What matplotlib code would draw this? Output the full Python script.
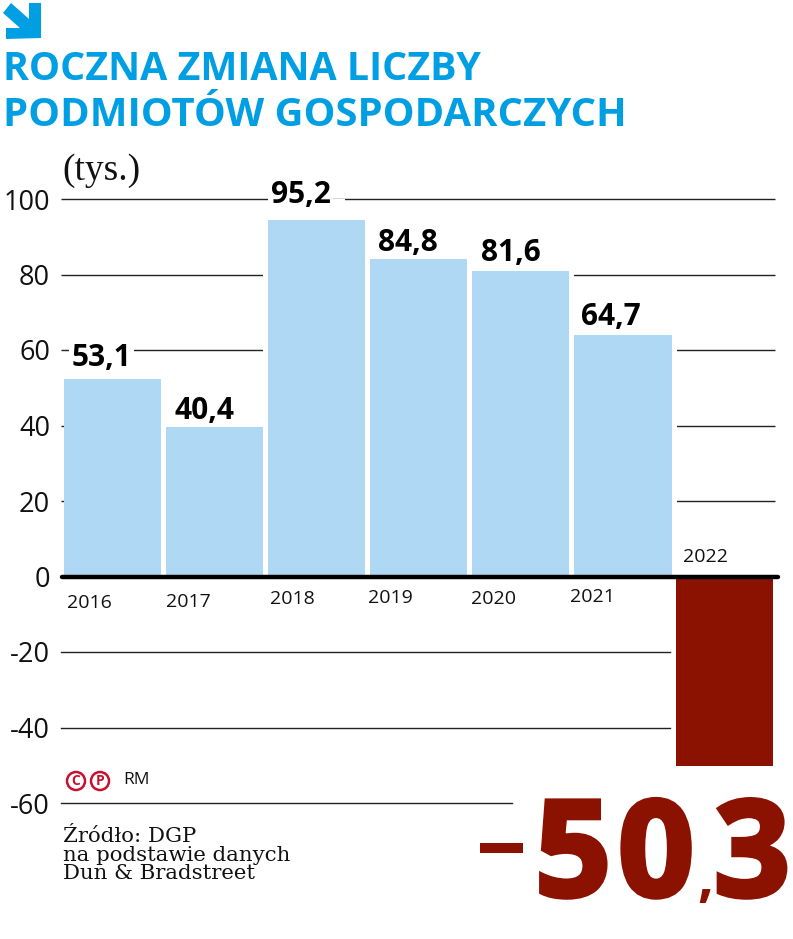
import matplotlib.pyplot as plt
import matplotlib.patheffects as pe
from matplotlib.patches import Polygon, Circle
from matplotlib.transforms import IdentityTransform

W, H = 793, 939

# DATA
years = ["2016", "2017", "2018", "2019", "2020", "2021", "2022"]
values = [53.1, 40.4, 95.2, 84.8, 81.6, 64.7, -50.3]
value_labels = ["53,1", "40,4", "95,2", "84,8", "81,6", "64,7"]
y_ticks = [100, 80, 60, 40, 20, 0, -20, -40, -60]
y_tick_labels = ["100", "80", "60", "40", "20", "0", "-20", "-40", "-60"]

# hand placed offsets from the bar, in pixels
label_dx = [-11, -10, -16, -11, -10, -12]
label_dy = [18, 13, 22, 13, 15, 15]
year_px = [(89, 603), (188, 602), (292, 599), (390, 598), (493, 599), (592, 597), (706, 557)]

BLUE = "#009fe3"
LIGHT = "#aed8f3"
RED = "#8b1100"

plt.rcParams["font.family"] = ["Open Sans", "DejaVu Sans"]


def fx(x):
    return x / W


def fy(y):
    return 1 - y / H


fig = plt.figure(figsize=(W / 100, H / 100), dpi=100)
ax = fig.add_axes([fx(64), fy(803), (775 - 64) / W, (803 - 199) / H])
ax.set_xlim(-0.475, 6.495)
ax.set_ylim(-60, 100)
ax.patch.set_alpha(0)
for s in ax.spines.values():
    s.set_visible(False)
ax.set_xticks([])
ax.set_yticks(y_ticks, y_tick_labels)
ax.tick_params(axis="y", length=0, pad=10, labelsize=19.5, labelcolor="#111111")

# grid, each level stops where the reference stops
for lev in y_ticks:
    if lev > 0:
        ax.plot([-0.5, 6.495], [lev, lev], color="#222222", lw=1, zorder=1, solid_capstyle="butt", clip_on=False)
    elif lev == -60:
        ax.plot([-0.5, 3.92], [lev, lev], color="#222222", lw=1, zorder=1, clip_on=False)
    elif lev < 0:
        ax.plot([-0.5, 5.47], [lev, lev], color="#222222", lw=1, zorder=1, clip_on=False)
# gap at the right of the 95,2 label is wider than the label
ax.plot([2.1, 2.28], [100, 100], color="white", lw=3, zorder=1.5, solid_capstyle="butt")

# white edges make the gaps between bars
ax.bar(range(6), values[:6], width=1.0, color=LIGHT, edgecolor="white", linewidth=3.6, zorder=2)
ax.bar([6], [values[6]], width=0.96, color=RED, zorder=2)
ax.plot([-0.495, 6.52], [0, 0], color="black", lw=3.2, zorder=3, clip_on=False, solid_capstyle="round")

for i, lab in enumerate(value_labels):
    t = ax.annotate(lab, xy=(i, values[i]), xytext=(label_dx[i], label_dy[i]), textcoords="offset pixels",
                    ha="center", va="center", fontsize=21.5, fontweight="bold", color="black", zorder=4)
    # only these two sit on a grid line
    if lab in ("53,1", "95,2"):
        t.set_bbox(dict(facecolor="white", edgecolor="none", pad=2))

for lab, (x, y) in zip(years, year_px):
    fig.text(fx(x), fy(y), lab, ha="center", va="center", fontsize=14, color="#111111")

# header
fig.add_artist(Polygon([(fx(x), fy(y)) for x, y in [(3, 13), (11, 3), (29, 19), (29, 3), (41, 3), (41, 38), (6, 39), (6, 28), (20, 28)]],
                       closed=True, facecolor=BLUE, edgecolor="none", transform=fig.transFigure))
fig.text(fx(3), fy(80), "ROCZNA ZMIANA LICZBY", fontsize=28.4, fontweight="bold", color=BLUE, va="baseline")
fig.text(fx(3), fy(126), "PODMIOTÓW GOSPODARCZYCH", fontsize=28.8, fontweight="bold", color=BLUE, va="baseline")
fig.text(fx(62), fy(180), "(tys.)", fontsize=27, family="Liberation Serif", color="#111111", va="baseline")

# big number, split up because the reference sets it very tight
fat = [pe.withStroke(linewidth=3.5, foreground=RED, joinstyle="miter")]
big = dict(fontsize=96, fontweight="bold", color=RED, va="baseline", ha="left", path_effects=fat)
fig.add_artist(Polygon([(fx(x), fy(y)) for x, y in [(480, 843), (523, 843), (523, 853), (480, 853)]], closed=True,
                       facecolor=RED, edgecolor="none", transform=fig.transFigure))
fig.text(fx(535), fy(896), "5", **big)
fig.text(fx(618), fy(896), "0", **big)
fig.text(fx(697), fy(896), ",", fontsize=40, fontweight="bold", color=RED, va="baseline", ha="left")
fig.text(fx(714), fy(896), "3", **big)

# credit
for x, lab in [(76, "C"), (100, "P")]:
    fig.add_artist(Circle((x, H - 781), 9, facecolor="none", edgecolor="#c8102e", lw=1.8, transform=IdentityTransform()))
    fig.text(fx(x), fy(781), lab, fontsize=10, fontweight="bold", color="#c8102e", ha="center", va="center")
fig.text(fx(123), fy(780), "RM", fontsize=12.5, color="#111111", va="center")

serif = dict(fontsize=15.3, family="DejaVu Serif", color="#111111", va="baseline")
fig.text(fx(63), fy(842), "Źródło: DGP", **serif)
fig.text(fx(63), fy(861), "na podstawie danych", **serif)
fig.text(fx(63), fy(879), "Dun & Bradstreet", **serif)

fig.savefig("out.png", dpi=100)
